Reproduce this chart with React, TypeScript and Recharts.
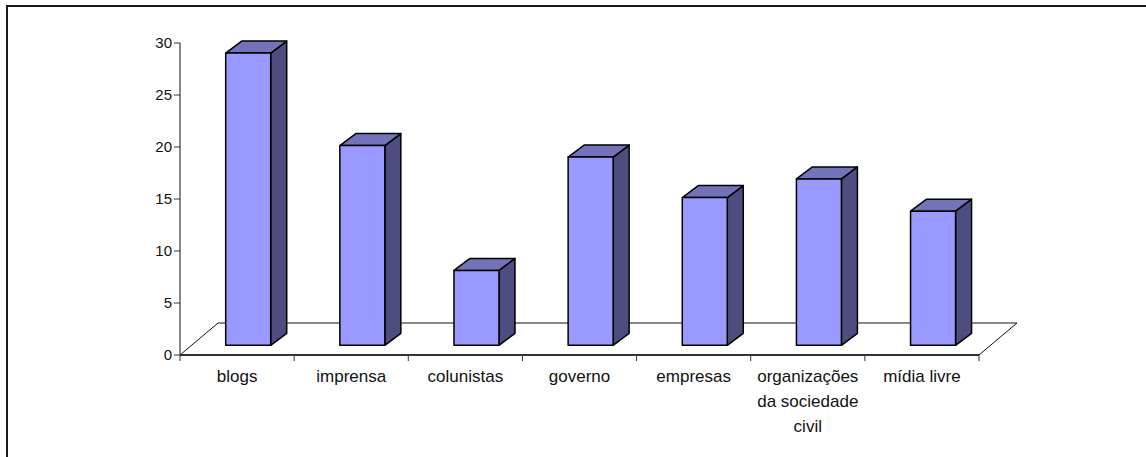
import { Bar, BarChart, Text, XAxis, YAxis, usePlotArea } from "recharts";

const categories = [
  "blogs",
  "imprensa",
  "colunistas",
  "governo",
  "empresas",
  "organizações da sociedade civil",
  "mídia livre",
];
const values = [28.1, 19.2, 7.2, 18.1, 14.2, 16.0, 12.9];
const yTicks = [0, 5, 10, 15, 20, 25, 30];

const data = categories.map((name, i) => ({ name, value: values[i] }));

const FONT = "'Liberation Sans', Arial, sans-serif";
const TEXT_COLOR = "#111111";

// fake 3d look: floor depth and the offset of each box on it
const FLOOR_DX = 38;
const FLOOR_DY = 32;
const BOX_DX = 16;
const BOX_DY = 12;
const BAR_SHIFT_X = 10.7;
const BAR_SHIFT_Y = 9.7;
const TICK_SIZE = 6;

function Floor() {
  const plot = usePlotArea();
  if (!plot) return null;
  const left = plot.x;
  const right = plot.x + plot.width;
  const bottom = plot.y + plot.height;
  const back = bottom - FLOOR_DY;
  return (
    <path
      d={`M${left},${bottom}L${left + FLOOR_DX},${back}L${right + FLOOR_DX},${back}L${right},${bottom}`}
      fill="none"
      stroke="#111111"
      strokeWidth={1}
    />
  );
}

function Box3D(props: any) {
  const { x, y, width, height } = props;
  const l = x + BAR_SHIFT_X;
  const r = l + width;
  const t = y - BAR_SHIFT_Y;
  const b = y + height - BAR_SHIFT_Y;
  return (
    <g stroke="#000000" strokeWidth={1.5} strokeLinejoin="round">
      <path
        d={`M${r},${t}L${r + BOX_DX},${t - BOX_DY}L${r + BOX_DX},${b - BOX_DY}L${r},${b}Z`}
        fill="#4d4d7f"
      />
      <path
        d={`M${l},${t}L${l + BOX_DX},${t - BOX_DY}L${r + BOX_DX},${t - BOX_DY}L${r},${t}Z`}
        fill="#7373b9"
      />
      <rect x={l} y={t} width={width} height={height} fill="#9999ff" />
    </g>
  );
}

// ticks sit between the categories, not under them
function CategoryTick(props: any) {
  const { x, y, payload, index } = props;
  const plot = usePlotArea();
  const band = plot ? plot.width / categories.length : 0;
  const axisY = plot ? plot.y + plot.height : y;
  const edges = [x - band / 2];
  if (index === categories.length - 1) edges.push(x + band / 2);
  return (
    <g>
      {edges.map((edge) => (
        <line
          key={edge}
          x1={edge}
          x2={edge}
          y1={axisY}
          y2={axisY + TICK_SIZE}
          stroke="#333333"
        />
      ))}
      <Text
        x={x}
        y={y}
        width={100}
        textAnchor="middle"
        verticalAnchor="start"
        lineHeight={25}
        fontSize={17}
        fontFamily={FONT}
        fill={TEXT_COLOR}
      >
        {payload.value}
      </Text>
    </g>
  );
}

export default function App() {
  return (
    <div
      style={{
        position: "absolute",
        left: 0,
        top: 0,
        width: 1146,
        height: 457,
        background: "#ffffff",
        overflow: "hidden",
      }}
    >
      <div
        style={{
          position: "absolute",
          left: 6,
          top: 5,
          width: 1146,
          height: 457,
          borderLeft: "2px solid #1a1a1a",
          borderTop: "2px solid #1a1a1a",
        }}
      />
      <div style={{ position: "absolute", left: 0, top: 0 }}>
        <BarChart
          width={1146}
          height={457}
          data={data}
          margin={{ top: 43, right: 167, bottom: 0, left: 120 }}
          barSize={45}
        >
          <Floor />
          <XAxis
            dataKey="name"
            interval={0}
            height={102}
            axisLine={{ stroke: "#333333", strokeWidth: 2 }}
            tickLine={false}
            tickSize={TICK_SIZE}
            tickMargin={8.5}
            tick={<CategoryTick />}
          />
          <YAxis
            domain={[0, 30]}
            ticks={yTicks}
            width={60}
            axisLine={{ stroke: "#111111" }}
            tickLine={{ stroke: "#333333" }}
            tickSize={TICK_SIZE}
            tick={{ fontSize: 15, fontFamily: FONT, fill: TEXT_COLOR }}
          />
          <Bar dataKey="value" shape={<Box3D />} isAnimationActive={false} />
        </BarChart>
      </div>
    </div>
  );
}
